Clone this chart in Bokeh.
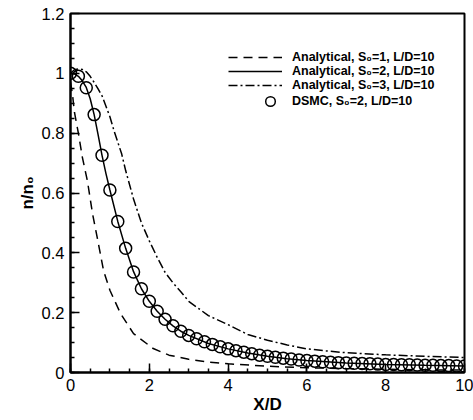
from bokeh.plotting import figure
from bokeh.models import (Range1d, FixedTicker, CustomJSTickFormatter, Legend, LegendItem)
from bokeh.embed import file_html
from bokeh.resources import INLINE

# ---- data ----
x_s1 = [0.0, 0.05, 0.1, 0.2, 0.3, 0.43, 0.56, 0.68, 0.84, 1.0, 1.27, 1.6, 2.1, 2.5, 3.0, 3.5,
        4.0, 5.0, 6.0, 7.0, 8.0, 9.0, 10.0]
y_s1 = [0.97, 0.93, 0.87, 0.80, 0.72, 0.64, 0.53, 0.45, 0.34, 0.275, 0.197, 0.13, 0.08, 0.058,
        0.044, 0.035, 0.029, 0.021, 0.016, 0.013, 0.011, 0.009, 0.008]

x_s2 = [0.0, 0.1, 0.2, 0.3, 0.4, 0.5, 0.6, 0.7, 0.8, 0.9, 1.0, 1.2, 1.4, 1.6, 1.8, 2.0, 2.2,
        2.4, 2.6, 2.8, 3.0, 3.5, 4.0, 4.5, 5.0, 5.5, 6.0, 7.0, 8.0, 9.0, 10.0]
y_s2 = [1.0, 0.998, 0.99, 0.975, 0.953, 0.915, 0.862, 0.795, 0.726, 0.665, 0.61, 0.505, 0.415,
        0.337, 0.28, 0.238, 0.205, 0.178, 0.156, 0.138, 0.124, 0.097, 0.079, 0.065, 0.054,
        0.046, 0.040, 0.032, 0.027, 0.024, 0.022]

x_s3 = [0.0, 0.1, 0.2, 0.3, 0.4, 0.5, 0.6, 0.7, 0.8, 0.9, 1.0, 1.1, 1.2, 1.3, 1.4, 1.6, 1.8,
        2.0, 2.2, 2.4, 2.6, 2.8, 3.0, 3.5, 4.0, 4.5, 5.0, 5.5, 6.0, 6.5, 7.0, 8.0, 9.0, 10.0]
y_s3 = [1.0, 1.012, 1.015, 1.013, 1.005, 0.99, 0.97, 0.948, 0.925, 0.89, 0.855, 0.81, 0.77,
        0.73, 0.675, 0.58, 0.50, 0.44, 0.385, 0.335, 0.30, 0.27, 0.238, 0.19, 0.16, 0.127,
        0.108, 0.092, 0.079, 0.072, 0.066, 0.059, 0.054, 0.05]

x_dsmc = [round(0.2 * i, 1) for i in range(51)]
y_dsmc = [1.000, 0.990, 0.952, 0.862, 0.726, 0.610, 0.505, 0.415, 0.336, 0.280,
          0.238, 0.205, 0.178, 0.156, 0.138, 0.124, 0.113, 0.103, 0.094, 0.086,
          0.079, 0.073, 0.068, 0.063, 0.058, 0.054, 0.051, 0.048, 0.045, 0.042,
          0.040, 0.038, 0.036, 0.034, 0.033, 0.032, 0.031, 0.030, 0.029, 0.028,
          0.027, 0.027, 0.026, 0.026, 0.025, 0.024, 0.024, 0.023, 0.023, 0.022,
          0.022]

x_ticks = [0, 2, 4, 6, 8, 10]
x_minor = [i * 0.5 for i in range(21)]
y_ticks = [0, 0.2, 0.4, 0.6, 0.8, 1.0, 1.2]
y_minor = [i * 0.05 for i in range(25)]

labels = ["Analytical, S\u2080=1, L/D=10", "Analytical, S\u2080=2, L/D=10",
          "Analytical, S\u2080=3, L/D=10", "DSMC, S\u2080=2, L/D=10"]

FONT = "Liberation Sans"

p = figure(width=473, height=420, output_backend="svg", toolbar_location=None,
           x_range=Range1d(0, 10), y_range=Range1d(0, 1.2),
           min_border_left=70, min_border_right=9, min_border_top=13, min_border_bottom=48)
p.grid.visible = False
p.background_fill_color = "white"
p.border_fill_color = "white"
p.outline_line_color = "black"
p.outline_line_width = 2

r1 = p.line(x_s1, y_s1, line_color="black", line_width=1.5, line_dash="9 6")
r2 = p.line(x_s2, y_s2, line_color="black", line_width=1.5)
r3 = p.line(x_s3, y_s3, line_color="black", line_width=1.5, line_dash="9 3 2 3")
r4 = p.scatter(x_dsmc, y_dsmc, marker="circle", size=12, line_color="black", line_width=1.5,
               fill_color="white", fill_alpha=0.0)

fmt = CustomJSTickFormatter(code="return tick.toFixed(1).replace(/\\.0$/, '');")
p.xaxis.ticker = FixedTicker(ticks=x_ticks, minor_ticks=x_minor)
p.yaxis.ticker = FixedTicker(ticks=y_ticks, minor_ticks=y_minor)
p.xaxis.formatter = fmt
p.yaxis.formatter = fmt

for ax in (p.xaxis, p.yaxis):
    ax.axis_line_width = 2
    ax.axis_line_color = "black"
    ax.major_tick_in = 9
    ax.major_tick_out = 0
    ax.minor_tick_in = 4
    ax.minor_tick_out = 0
    ax.major_tick_line_width = 1.5
    ax.minor_tick_line_width = 1.5
    ax.major_label_text_font = FONT
    ax.major_label_text_font_size = "16.5px"
    ax.major_label_text_color = "black"
    ax.axis_label_text_font = FONT
    ax.axis_label_text_font_size = "17px"
    ax.axis_label_text_font_style = "bold"
    ax.axis_label_text_color = "black"
    ax.major_label_standoff = 6

p.xaxis.axis_label = "X/D"
p.yaxis.axis_label = "n/n\u2080"
p.xaxis.axis_label_standoff = 1
p.yaxis.axis_label_standoff = 2

def mk_legend(items, loc, gw, gh):
    lg = Legend(items=items, location=loc, glyph_width=gw, glyph_height=gh,
                label_height=gh, spacing=0, padding=0, margin=0, label_standoff=10,
                border_line_color=None, background_fill_alpha=0.0,
                label_text_font=FONT, label_text_font_size="12.5px",
                label_text_font_style="bold", label_text_color="black")
    return lg

leg1 = mk_legend([LegendItem(label=labels[0], renderers=[r1]),
                  LegendItem(label=labels[1], renderers=[r2]),
                  LegendItem(label=labels[2], renderers=[r3])], (158, 280), 54, 12)
leg2 = mk_legend([LegendItem(label=labels[3], renderers=[r4])], (188, 259), 24, 24)
p.add_layout(leg1, "center")
p.add_layout(leg2, "center")

open("out.html", "w").write(file_html(p, INLINE))
